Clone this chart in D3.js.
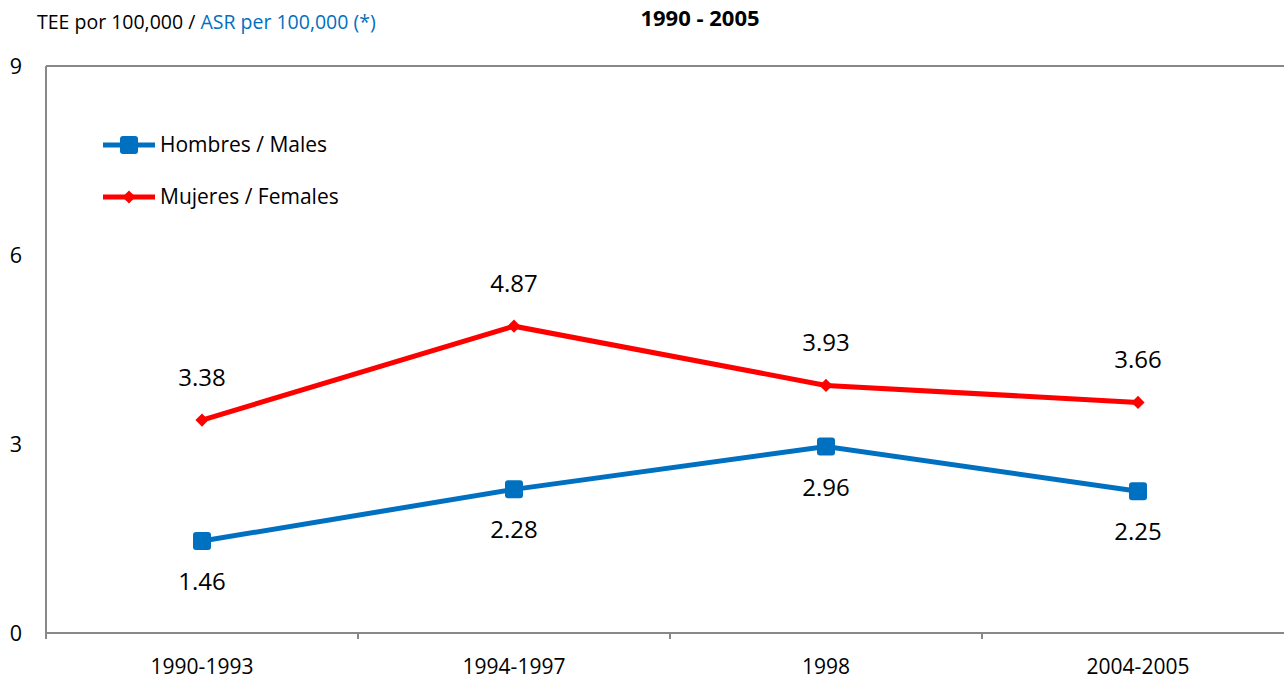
<!DOCTYPE html>
<html>
<head>
<meta charset="utf-8">
<script src="https://cdn.jsdelivr.net/npm/d3@7"></script>
<style>
  body { margin: 0; background: #fff; }
  svg { font-family: "Open Sans", sans-serif; }
</style>
</head>
<body>
<svg id="chart" width="1284" height="682"></svg>
<script>
var categories = ["1990-1993", "1994-1997", "1998", "2004-2005"];
var males = [1.46, 2.28, 2.96, 2.25];
var females = [3.38, 4.87, 3.93, 3.66];
var yTicks = [0, 3, 6, 9];

var svg = d3.select("#chart");
var plotLeft = 46, plotTop = 66, plotBottom = 633, bandW = 312;

var x = d3.scaleBand().domain(categories).range([plotLeft, plotLeft + bandW * categories.length]);
var y = d3.scaleLinear().domain([0, 9]).range([plotBottom, plotTop]);

// frame
svg.append("line").attr("x1", plotLeft).attr("x2", 1284).attr("y1", plotTop).attr("y2", plotTop)
  .attr("stroke", "#888").attr("stroke-width", 2);
svg.append("line").attr("x1", plotLeft).attr("x2", plotLeft).attr("y1", plotTop).attr("y2", plotBottom)
  .attr("stroke", "#888").attr("stroke-width", 2);

// x axis
var xAxis = svg.append("g").attr("transform", "translate(0," + plotBottom + ")")
  .call(d3.axisBottom(x).tickSize(0).tickPadding(26));
xAxis.select(".domain").attr("stroke", "#888").attr("stroke-width", 2)
  .attr("d", "M" + plotLeft + ",0H1284");
xAxis.selectAll("text").attr("font-size", 21).attr("fill", "#000")
  .attr("font-family", "'Open Sans', sans-serif");
svg.append("g").selectAll("line")
  .data(d3.range(categories.length + 1))
  .join("line")
  .attr("x1", d => plotLeft + d * bandW).attr("x2", d => plotLeft + d * bandW)
  .attr("y1", plotBottom).attr("y2", plotBottom + 6)
  .attr("stroke", "#888").attr("stroke-width", 2);

// y axis labels
svg.append("g").selectAll("text").data(yTicks).join("text")
  .attr("x", 16).attr("y", d => y(d) + 8)
  .attr("text-anchor", "middle").attr("font-size", 21.5).text(d => d);

// titles
var t = svg.append("text").attr("x", 37).attr("y", 29).attr("font-size", 19.5);
t.append("tspan").attr("fill", "#000").text("TEE por 100,000 / ");
t.append("tspan").attr("fill", "#0070C0").text("ASR per 100,000 (*)");
svg.append("text").attr("x", 700).attr("y", 26).attr("text-anchor", "middle")
  .attr("font-size", 22).attr("font-weight", "bold").text("1990 - 2005");

var cx = d => x(d) + x.bandwidth() / 2;
var line = d3.line().x((d, i) => cx(categories[i])).y(d => y(d));

// series
svg.append("path").datum(males).attr("d", line).attr("fill", "none")
  .attr("stroke", "#0070C0").attr("stroke-width", 5);
svg.append("path").datum(females).attr("d", line).attr("fill", "none")
  .attr("stroke", "#FF0000").attr("stroke-width", 5);

svg.append("g").selectAll("rect").data(males).join("rect")
  .attr("x", (d, i) => cx(categories[i]) - 9).attr("y", d => y(d) - 9)
  .attr("width", 18).attr("height", 18).attr("rx", 3).attr("fill", "#0070C0");
svg.append("g").selectAll("path").data(females).join("path")
  .attr("d", d3.symbol(d3.symbolDiamond2, 110))
  .attr("transform", (d, i) => "translate(" + cx(categories[i]) + "," + y(d) + ")")
  .attr("fill", "#FF0000");

// labels
svg.append("g").selectAll("text").data(males).join("text")
  .attr("x", (d, i) => cx(categories[i])).attr("y", d => y(d) + 49)
  .attr("text-anchor", "middle").attr("font-size", 24).text(d => d.toFixed(2));
svg.append("g").selectAll("text").data(females).join("text")
  .attr("x", (d, i) => cx(categories[i])).attr("y", d => y(d) - 34)
  .attr("text-anchor", "middle").attr("font-size", 24).text(d => d.toFixed(2));

// legend
var legend = [
  { name: "Hombres / Males", color: "#0070C0", y: 145, sq: true },
  { name: "Mujeres / Females", color: "#FF0000", y: 197, sq: false }
];
var lg = svg.append("g").selectAll("g").data(legend).join("g")
  .attr("transform", d => "translate(0," + d.y + ")");
lg.append("line").attr("x1", 103).attr("x2", 155).attr("stroke", d => d.color).attr("stroke-width", 5);
lg.filter(d => d.sq).append("rect").attr("x", 120).attr("y", -9).attr("width", 18)
  .attr("height", 18).attr("rx", 3).attr("fill", d => d.color);
lg.filter(d => !d.sq).append("path").attr("d", d3.symbol(d3.symbolDiamond2, 110))
  .attr("transform", "translate(129,0)").attr("fill", d => d.color);
lg.append("text").attr("x", 160).attr("y", 7).attr("font-size", 21).text(d => d.name);
</script>
</body>
</html>
